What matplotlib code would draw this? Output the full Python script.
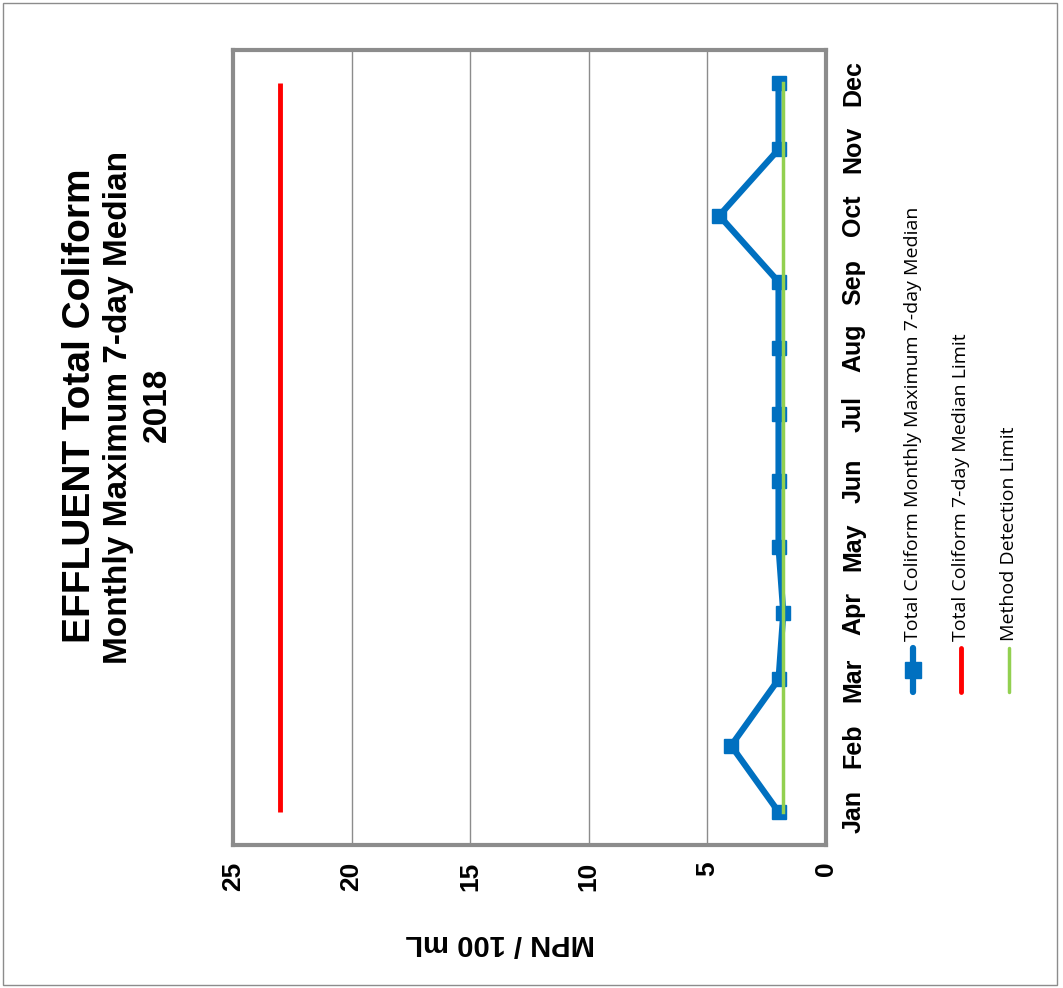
import matplotlib
matplotlib.use("Agg")
import matplotlib.pyplot as plt
from matplotlib.lines import Line2D
from matplotlib.patches import Rectangle

months = ["Jan", "Feb", "Mar", "Apr", "May", "Jun",
          "Jul", "Aug", "Sep", "Oct", "Nov", "Dec"]
median_7day = [2, 4, 2, 1.8, 2, 2, 2, 2, 2, 4.5, 2, 2]
median_limit = [23] * 12
detection_limit = [1.8] * 12
value_ticks = [0, 5, 10, 15, 20, 25]

W, H = 1063, 988
BLUE = "#0070c0"
RED = "#ff0000"
GREEN = "#92d050"
FRAME = "#8c8c8c"

plt.rcParams["font.family"] = ["Liberation Sans", "DejaVu Sans"]

fig = plt.figure(figsize=(W / 100, H / 100), dpi=100)

def fx(px):
    return px / W

def fy(py):
    return 1 - py / H

# page sits on its side: months run up the right edge, values run right to left
ax = fig.add_axes([fx(233), fy(845), fx(826 - 233), (845 - 50) / H])
pos = list(range(len(months)))

ax.plot(median_limit, pos, color=RED, lw=3.5, solid_capstyle="butt")
ax.plot(median_7day, pos, color=BLUE, lw=4.5, marker="s", ms=10,
        markeredgecolor=BLUE, zorder=3)
ax.plot(detection_limit, pos, color=GREEN, lw=2.5, zorder=4)

ax.set_xlim(25, 0)
ax.set_ylim(-0.5, len(months) - 0.5)
ax.set_xticks(value_ticks)
ax.set_xticklabels([str(v) for v in value_ticks], rotation=90,
                   fontsize=19, fontweight="bold")
ax.set_yticks(pos)
ax.set_yticklabels(months, rotation=90, va="center",
                   fontsize=18, fontweight="bold")
ax.yaxis.tick_right()
ax.tick_params(axis="x", length=0, pad=12)
ax.tick_params(axis="y", length=0, pad=11)
ax.grid(axis="x", color=FRAME, lw=1)
ax.set_axisbelow(True)
for s in ax.spines.values():
    s.set_color(FRAME)
    s.set_linewidth(3)

fig.text(fx(500), fy(943), "MPN / 100 mL", rotation=180, ha="center",
         va="center", fontsize=21, fontweight="bold")

fig.text(fx(80), fy(406), "EFFLUENT Total Coliform", rotation=90,
         ha="center", va="center", fontsize=28, fontweight="bold")
fig.text(fx(119), fy(407), "Monthly Maximum 7-day Median", rotation=90,
         ha="center", va="center", fontsize=24, fontweight="bold")
fig.text(fx(157), fy(405), "2018", rotation=90,
         ha="center", va="center", fontsize=24, fontweight="bold")

# legend, stacked sideways along the right edge
legend_items = [
    ("Total Coliform Monthly Maximum 7-day Median", BLUE, 4.5, "s", 913),
    ("Total Coliform 7-day Median Limit", RED, 3.5, None, 961),
    ("Method Detection Limit", GREEN, 2.5, None, 1009),
]
for label, color, lw, marker, x in legend_items:
    fig.add_artist(Line2D([fx(x), fx(x)], [fy(692), fy(648)], color=color,
                          lw=lw, solid_capstyle="round",
                          transform=fig.transFigure))
    if marker:
        fig.add_artist(Line2D([fx(x)], [fy(670)], color=color, marker=marker,
                              ms=11, transform=fig.transFigure))
    fig.text(fx(x), fy(641), label, rotation=90, ha="center", va="bottom",
             fontsize=14, family=["Open Sans", "DejaVu Sans"])

fig.add_artist(Rectangle((fx(3), fy(985)), fx(1057 - 3), (985 - 3) / H,
                         fill=False, edgecolor=FRAME, lw=1,
                         transform=fig.transFigure))

fig.savefig("out.png", dpi=100)
